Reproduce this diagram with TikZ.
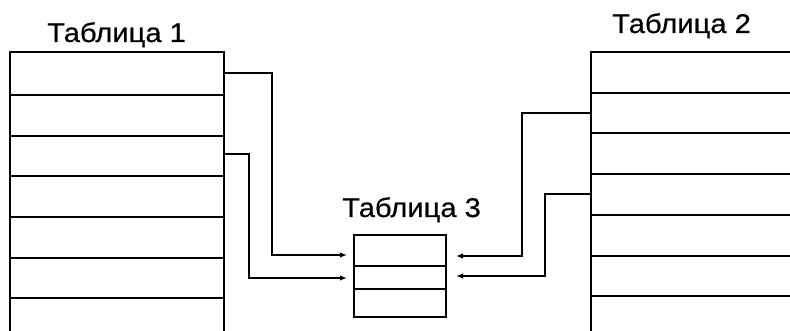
\documentclass[tikz,border=0pt]{standalone}
\usepackage{fontspec}
\setmainfont{Liberation Sans}
\newfontfamily\titlefont[FakeBold=0.6]{Liberation Sans}
\usetikzlibrary{arrows.meta}
\begin{document}
\begin{tikzpicture}[x=1pt,y=-1pt,
  tline/.style={line width=1.8pt,line cap=rect},
  conn/.style={line width=1.8pt,-{Latex[length=7pt,width=5.5pt]}},
  title/.style={font=\titlefont\fontsize{27}{30}\selectfont,inner sep=0pt,anchor=base west,xscale=1.08}]
\useasboundingbox (0,0) rectangle (790,331);
% Table 1
\draw[tline] (10,331) -- (10,52) -- (224,52) -- (224,331);
\foreach \y in {95,136,176,217,258,298} \draw[tline] (10,\y) -- (224,\y);
% Table 2
\draw[tline] (591,331) -- (591,52) -- (790,52);
\foreach \y in {93,133,174,215,256,296} \draw[tline] (591,\y) -- (790,\y);
% Table 3
\draw[tline] (354,235) rectangle (446,317);
\draw[tline] (354,266) -- (446,266);
\draw[tline] (354,289) -- (446,289);
% titles
\node[title] (t1) at (47,42) {Таблица 1};
\node[title] (t2) at (612,33) {Таблица 2};
\node[title] (t3) at (342,217) {Таблица 3};
% connector points
\coordinate (a1) at (224,73);  \coordinate (a2) at (347,255);
\coordinate (b1) at (224,154); \coordinate (b2) at (347,278);
\coordinate (c1) at (591,113); \coordinate (c2) at (456,256);
\coordinate (d1) at (591,194); \coordinate (d2) at (456,276);
\draw[conn] (a1) -- (272,73) |- (a2);
\draw[conn] (b1) -- (249,154) |- (b2);
\draw[conn] (c1) -- (522,113) |- (c2);
\draw[conn] (d1) -- (545,194) |- (d2);
\end{tikzpicture}
\end{document}
